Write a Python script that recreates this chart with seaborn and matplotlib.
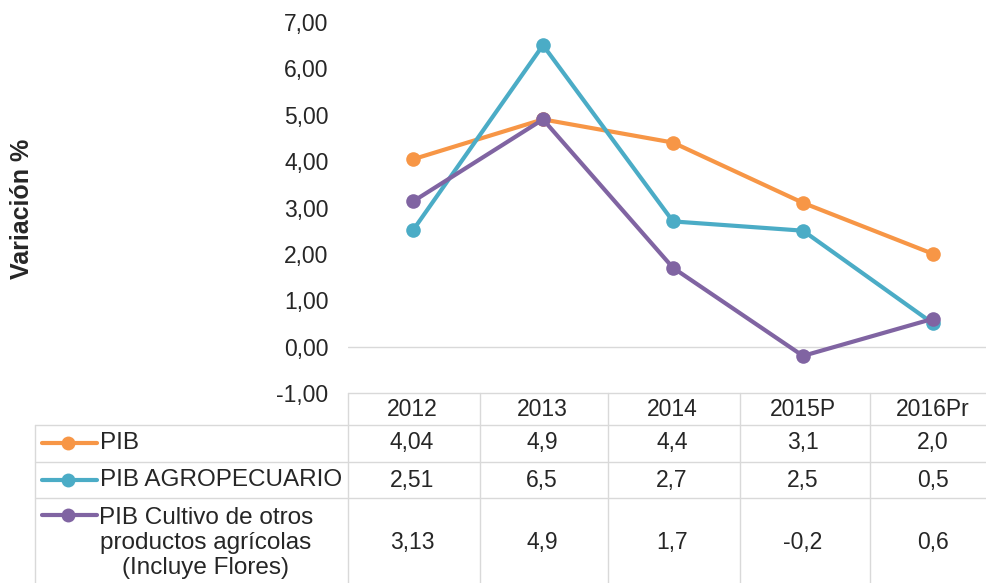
import pandas as pd
import matplotlib
matplotlib.use('Agg')
import matplotlib.pyplot as plt
import seaborn as sns
from matplotlib.lines import Line2D

years = ['2012', '2013', '2014', '2015P', '2016Pr']
pib = [4.04, 4.9, 4.4, 3.1, 2.0]
pib_agro = [2.51, 6.5, 2.7, 2.5, 0.5]
pib_cultivo = [3.13, 4.9, 1.7, -0.2, 0.6]
table_text = [
    ['4,04', '4,9', '4,4', '3,1', '2,0'],
    ['2,51', '6,5', '2,7', '2,5', '0,5'],
    ['3,13', '4,9', '1,7', '-0,2', '0,6'],
]
series_names = ['PIB', 'PIB AGROPECUARIO',
                'PIB Cultivo de otros\nproductos agrícolas\n(Incluye Flores)']
colors = ['#F79646', '#4BACC6', '#8064A2']

sns.set_theme(style='white')
plt.rcParams['font.family'] = ['Liberation Sans', 'DejaVu Sans']
FS = 16.5
LFS = 17.5
TXT = '#262626'

df = pd.DataFrame({
    'x': list(range(len(years))) * 3,
    'valor': pib + pib_agro + pib_cultivo,
    'serie': [series_names[0]] * 5 + [series_names[1]] * 5 + [series_names[2]] * 5,
})

W, H = 987, 583
fig = plt.figure(figsize=(W / 100, H / 100), dpi=100)
ax_left, ax_right = 348, 998
ax_top, ax_bot = 22, 393
ax = fig.add_axes([ax_left / W, 1 - ax_bot / H, (ax_right - ax_left) / W, (ax_bot - ax_top) / H])

sns.lineplot(data=df, x='x', y='valor', hue='serie', palette=colors, marker='o',
             markersize=10.5, linewidth=3, markeredgewidth=0, legend=False, ax=ax)
ax.axhline(0, color='#D9D9D9', linewidth=1, zorder=0)
ax.set_xlim(-0.5, 4.5)
ax.set_ylim(-1, 7)
ax.set_yticks(range(-1, 8))
ax.set_yticklabels([f'{v},00' if v >= 0 else f'-{abs(v)},00' for v in range(-1, 8)],
                   fontsize=FS, color=TXT)
ax.tick_params(axis='y', length=0, pad=14)
ax.set_xticks([])
ax.set_xlabel('')
ax.set_ylabel('')
for s in ax.spines.values():
    s.set_visible(False)
fig.text(22 / W, 1 - 209 / H, 'Variación %', rotation=90, fontsize=18, fontweight='bold',
         ha='center', va='center', color=TXT)

# Data table under the chart
grid = '#D9D9D9'
col_edges = [348, 480, 608, 740, 870, 1000]
row_edges = [393, 425, 462, 498, 600]
tx = lambda px: px / W
ty = lambda py: 1 - py / H
fig.add_artist(Line2D([tx(348), tx(1000)], [ty(393), ty(393)], color=grid, lw=1))
for y in row_edges[1:4]:
    fig.add_artist(Line2D([tx(35), tx(1000)], [ty(y), ty(y)], color=grid, lw=1))
fig.add_artist(Line2D([tx(35), tx(35)], [ty(425), ty(600)], color=grid, lw=1))
for x in col_edges[:-1]:
    fig.add_artist(Line2D([tx(x), tx(x)], [ty(393), ty(600)], color=grid, lw=1))
for i, yr in enumerate(years):
    cx = (col_edges[i] + col_edges[i + 1]) / 2 - 2
    fig.text(tx(cx), ty(410), yr, ha='center', va='center', fontsize=FS, color=TXT)
row_centers = [443, 480, 543]
for r in range(3):
    cy = row_centers[r]
    for i in range(5):
        cx = (col_edges[i] + col_edges[i + 1]) / 2 - 2
        fig.text(tx(cx), ty(cy), table_text[r][i], ha='center', va='center',
                 fontsize=FS, color=TXT)
    ky = 443 if r == 0 else (480 if r == 1 else 515)
    fig.add_artist(Line2D([tx(42), tx(97)], [ty(ky), ty(ky)], color=colors[r], lw=3))
    fig.add_artist(Line2D([tx(68)], [ty(ky)], color=colors[r], marker='o', markersize=10,
                          markeredgewidth=0, lw=0))
    if r < 2:
        fig.text(tx(100), ty(cy), series_names[r], ha='left', va='center', fontsize=LFS,
                 color=TXT)
    else:
        fig.text(tx(206), ty(cy), series_names[r], ha='center', va='center',
                 fontsize=LFS, color=TXT, linespacing=1.2, multialignment='center')

fig.savefig('out.png', dpi=100)
